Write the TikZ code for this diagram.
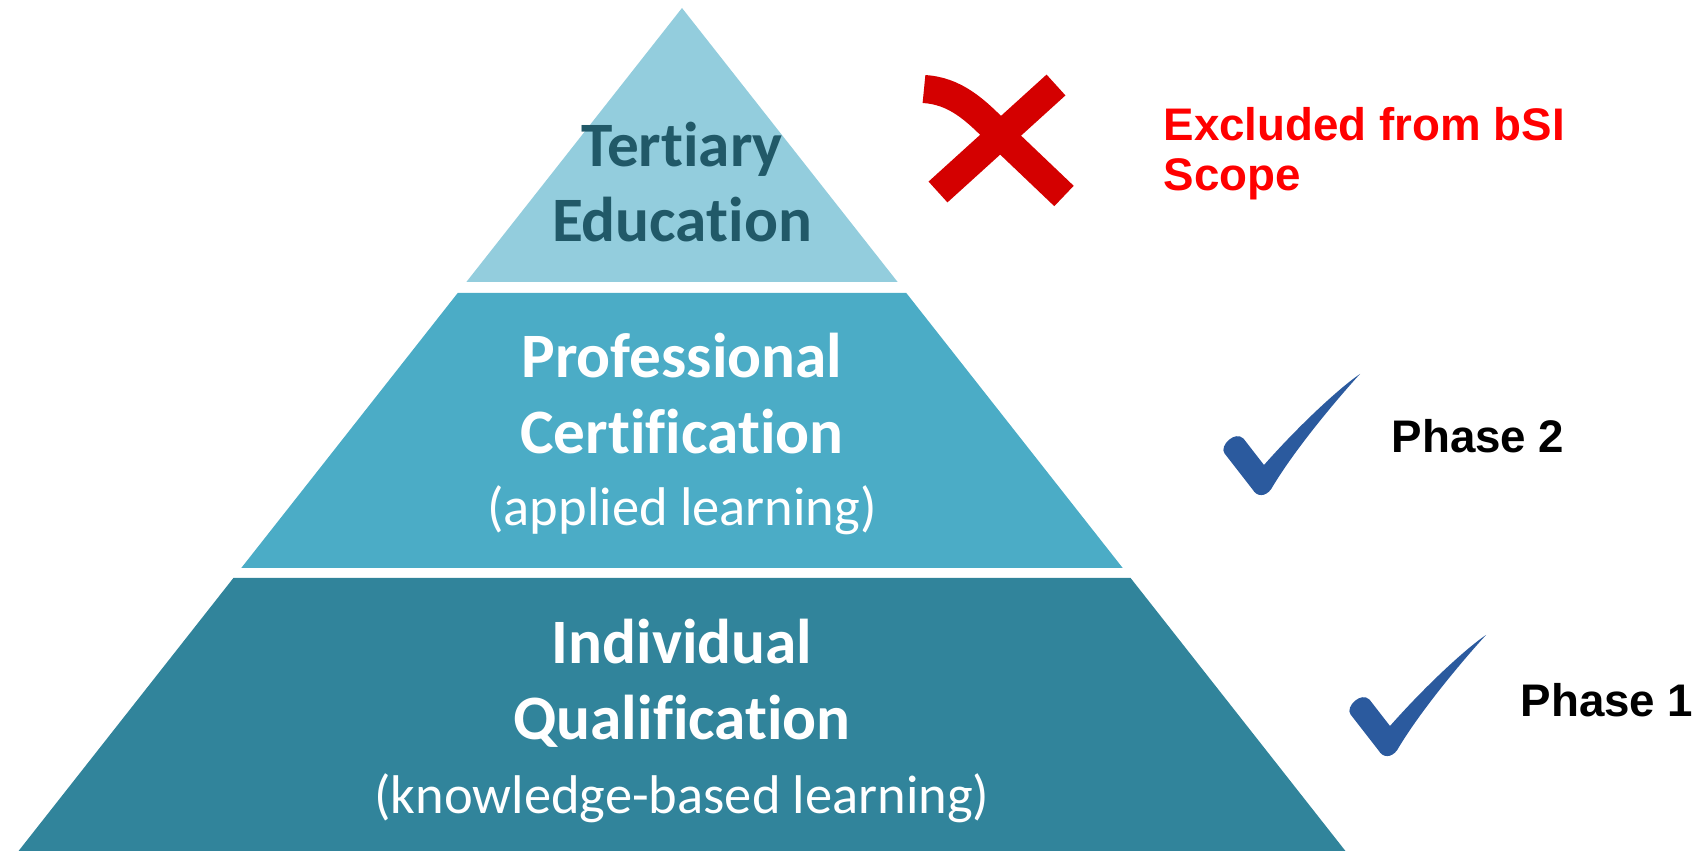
\documentclass[tikz,border=0pt]{standalone}
\usepackage{fontspec}
\setmainfont{Carlito}[Ligatures=NoCommon]
\newfontfamily\arialfont{Liberation Sans}
\definecolor{tiertop}{HTML}{93CDDD}
\definecolor{tiermid}{HTML}{4BACC6}
\definecolor{tierbot}{HTML}{31849B}
\definecolor{tiertext}{HTML}{215968}
\definecolor{crossred}{HTML}{D40000}
\definecolor{tickblue}{HTML}{2B5A9E}
\tikzset{
  tier/.style={align=center, inner sep=0pt, font=\fontsize{18}{21.6}\selectfont\bfseries},
  sidelabel/.style={inner sep=0pt, font=\arialfont\fontsize{13}{14.2}\selectfont\bfseries},
  checkmark/.pic={
    \fill[tickblue, x=0.1mm, y=0.1mm] (-9.5,2.6) -- (-37.5,38.6)
      .. controls (-43,46) and (-27,62) .. (-18.5,53.4) -- (2,27)
      .. controls (40,70) and (80,106) .. (98,118)
      .. controls (76,94) and (32,42) .. (9,2.6)
      .. controls (3,-5) and (-5,-5) .. cycle;
  }
}
\begin{document}
\begin{tikzpicture}
  \useasboundingbox (0,0) rectangle (16.96,8.51);
  \def\cx{6.82}
  \def\ya{8.43}
  \def\s{0.787}
  % the three tiers
  \foreach \yt/\yb/\col in {8.43/5.69/tiertop, 5.58/2.83/tiermid, 2.73/0/tierbot}
    {
      \fill[\col] ({\cx-\s*(\ya-\yt)},\yt) -- ({\cx+\s*(\ya-\yt)},\yt)
        -- ({\cx+\s*(\ya-\yb)},\yb) -- ({\cx-\s*(\ya-\yb)},\yb) -- cycle;
    }
  \node[tier, text=tiertext] (tertiary) at (\cx,6.69) {Tertiary\\Education};
  \node[tier, text=white] (professional) at (\cx,4.17)
    {Professional\\Certification\\[-1pt]{\fontsize{15.5}{18}\selectfont\mdseries (applied learning)}};
  \node[tier, text=white] (individual) at (\cx,1.30)
    {Individual\\Qualification\\[-0.3pt]{\fontsize{15.5}{18}\selectfont\mdseries (knowledge-based learning)}};
  % marks
  \draw[crossred, line width=8pt] (9.24,7.62) .. controls (9.55,7.60) and (9.75,7.42) .. (10.0,7.16) -- (10.64,6.55);
  \draw[crossred, line width=8pt] (10.56,7.66) -- (9.38,6.59);
  \pic at (12.62,3.59) {checkmark};
  \pic at (13.88,0.98) {checkmark};
  % labels
  \node[sidelabel, text=red, align=left, anchor=north west] (excluded) at (11.63,7.44) {Excluded from bSI\\Scope};
  \node[sidelabel, anchor=west] (phasetwo) at (13.91,4.15) {Phase 2};
  \node[sidelabel, anchor=west] (phaseone) at (15.20,1.51) {Phase 1};
\end{tikzpicture}
\end{document}
